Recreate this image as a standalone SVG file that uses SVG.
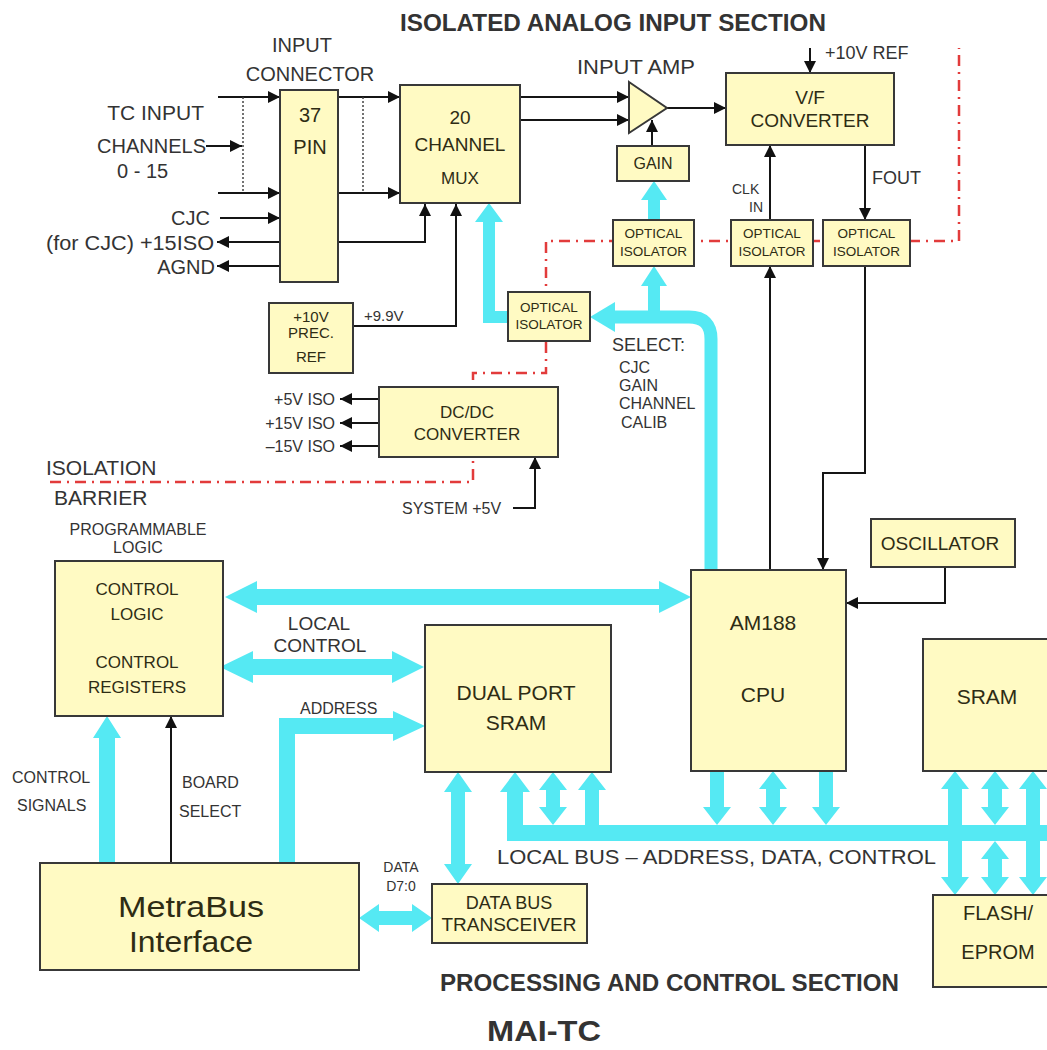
<svg xmlns="http://www.w3.org/2000/svg" width="1047" height="1050" viewBox="0 0 1047 1050">
<style>
.box{fill:#FFFAC3;stroke:#383838;stroke-width:2}
.ln{fill:none;stroke:#151515;stroke-width:2}
.dot{fill:none;stroke:#444;stroke-width:1.5;stroke-dasharray:2 2}
.cy{fill:#55E9F3}
.cys{fill:none;stroke:#55E9F3}
.red{fill:none;stroke:#E23B3B;stroke-width:2.5;stroke-dasharray:11 6 2 6}
text{font-family:"Liberation Sans",Arial,Helvetica,sans-serif;fill:#333}
.in{fill:#2e2c14}
.c{text-anchor:middle}
.e{text-anchor:end}
.b{font-weight:bold}
</style>
<defs>
<marker id="ah" viewBox="0 0 10 10" refX="10" refY="5" markerWidth="13" markerHeight="12" markerUnits="userSpaceOnUse" orient="auto">
<path d="M0,0 L10,5 L0,10 z" fill="#111"/>
</marker>
</defs>
<rect width="1047" height="1050" fill="#fff"/>

<!-- isolation barrier -->
<path class="red" d="M50 482 H473 V373 H546 V241 H959 V48"/>

<g id="connectors">
<path class="ln" d="M218 97 H280" marker-end="url(#ah)"/>
<path class="ln" d="M218 193 H280" marker-end="url(#ah)"/>
<path class="dot" d="M243 97 V193"/>
<path class="ln" d="M206 146 H242" marker-end="url(#ah)"/>
<path class="ln" d="M220 218 H280" marker-end="url(#ah)"/>
<path class="ln" d="M280 242 H217" marker-end="url(#ah)"/>
<path class="ln" d="M280 266 H217" marker-end="url(#ah)"/>
<path class="ln" d="M338 97 H400" marker-end="url(#ah)"/>
<path class="ln" d="M338 193 H400" marker-end="url(#ah)"/>
<path class="dot" d="M363 97 V193"/>
<path class="ln" d="M338 242 H425 V204" marker-end="url(#ah)"/>
<path class="ln" d="M353 326 H456 V204" marker-end="url(#ah)"/>
<path class="ln" d="M520 97 H629" marker-end="url(#ah)"/>
<path class="ln" d="M520 120 H629" marker-end="url(#ah)"/>
<path class="ln" d="M667 108 H726" marker-end="url(#ah)"/>
<path class="ln" d="M652 146 V120" marker-end="url(#ah)"/>
<path class="ln" d="M810 48 V73" marker-end="url(#ah)"/>
<path class="ln" d="M770 220 V145" marker-end="url(#ah)"/>
<path class="ln" d="M770 570 V266" marker-end="url(#ah)"/>
<path class="ln" d="M865 145 V220" marker-end="url(#ah)"/>
<path class="ln" d="M865 266 V473 H823 V570" marker-end="url(#ah)"/>
<path class="ln" d="M945 567 V603 H846" marker-end="url(#ah)"/>
<path class="ln" d="M379 399 H340" marker-end="url(#ah)"/>
<path class="ln" d="M379 423 H340" marker-end="url(#ah)"/>
<path class="ln" d="M379 446 H340" marker-end="url(#ah)"/>
<path class="ln" d="M513 508 H535 V457" marker-end="url(#ah)"/>
<path class="ln" d="M171 863 V716" marker-end="url(#ah)"/>

<polygon class="cy" points="508,311 495,311 495,222 503,222 489,203 475,222 483,222 483,323 508,323"/>
<path class="cys" stroke-width="13" d="M711 570 V339 Q711 317 689 317 H612"/>
<polygon class="cy" points="590,317 615,302 615,332"/>
<rect class="cy" x="648" y="284" width="12" height="34"/>
<polygon class="cy" points="654,266 667,286 641,286"/>
<rect class="cy" x="648" y="198" width="12" height="23"/>
<polygon class="cy" points="654,181 667,200 641,200"/>

<polygon class="cy" points="225,597 257,581 257,589 659,589 659,581 691,597 659,613 659,605 257,605 257,613"/>
<polygon class="cy" points="220,667 253,651 253,659 392,659 392,651 424,667 392,683 392,675 253,675 253,683"/>
<polygon class="cy" points="279,863 279,718 393,718 393,711 425,726 393,741 393,734 295,734 295,863"/>
<polygon class="cy" points="107,716 121,738 115,738 115,863 99,863 99,738 93,738"/>
<polygon class="cy" points="458,772 472,792 465,792 465,864 472,864 458,884 444,864 451,864 451,792 444,792"/>
<polygon class="cy" points="359,918 379,904 379,911 412,911 412,904 432,918 412,932 412,925 379,925 379,932"/>

<rect class="cy" x="507" y="825" width="540" height="16"/>
<rect class="cy" x="507" y="790" width="16" height="40"/>
<polygon class="cy" points="515,772 530,792 500,792"/>
<polygon class="cy" points="553,772 567,790 560,790 560,807 567,807 553,825 539,807 546,807 546,790 539,790"/>
<polygon class="cy" points="592,772 606,790 599,790 599,828 585,828 585,790 578,790"/>
<polygon class="cy" points="710,771 724,771 724,807 731,807 717,825 703,807 710,807"/>
<polygon class="cy" points="773,771 787,789 780,789 780,807 787,807 773,825 759,807 766,807 766,789 759,789"/>
<polygon class="cy" points="819,771 833,771 833,807 840,807 826,825 812,807 819,807"/>
<polygon class="cy" points="955,771 969,789 962,789 962,877 969,877 955,895 941,877 948,877 948,789 941,789"/>
<polygon class="cy" points="995,771 1009,789 1002,789 1002,807 1009,807 995,825 981,807 988,807 988,789 981,789"/>
<polygon class="cy" points="995,841 1009,859 1002,859 1002,877 1009,877 995,895 981,877 988,877 988,859 981,859"/>
<polygon class="cy" points="1033,771 1047,789 1040,789 1040,877 1047,877 1033,895 1019,877 1026,877 1026,789 1019,789"/>
</g>

<g id="conn37"><rect class="box" x="280" y="90" width="58" height="192"/>
<text class="in c" x="310" y="122" font-size="20">37</text><text class="in c" x="310" y="154" font-size="20">PIN</text></g>
<g id="mux"><rect class="box" x="400" y="85" width="120" height="118"/>
<text class="in c" x="460" y="124" font-size="19">20</text><text class="in c" x="460" y="151" font-size="19">CHANNEL</text><text class="in c" x="460" y="184" font-size="17">MUX</text></g>
<g id="amp"><polygon class="box" points="629,82 667,108 629,133"/></g>
<g id="vf"><rect class="box" x="726" y="73" width="168" height="72"/>
<text class="in c" x="810" y="104" font-size="19">V/F</text><text class="in c" x="810" y="127" font-size="19">CONVERTER</text></g>
<g id="gain"><rect class="box" x="617" y="146" width="72" height="35"/>
<text class="in c" x="653" y="169" font-size="16">GAIN</text></g>
<g id="oi1"><rect class="box" x="613" y="220" width="81" height="46"/>
<text class="in c" x="653.5" y="238" font-size="13.5">OPTICAL</text><text class="in c" x="653.5" y="256" font-size="13.5">ISOLATOR</text></g>
<g id="oi2"><rect class="box" x="731" y="220" width="82" height="46"/>
<text class="in c" x="772" y="238" font-size="13.5">OPTICAL</text><text class="in c" x="772" y="256" font-size="13.5">ISOLATOR</text></g>
<g id="oi3"><rect class="box" x="823" y="220" width="87" height="46"/>
<text class="in c" x="866.5" y="238" font-size="13.5">OPTICAL</text><text class="in c" x="866.5" y="256" font-size="13.5">ISOLATOR</text></g>
<g id="oi4"><rect class="box" x="508" y="292" width="82" height="49"/>
<text class="in c" x="549" y="312" font-size="13.5">OPTICAL</text><text class="in c" x="549" y="329" font-size="13.5">ISOLATOR</text></g>
<g id="ref"><rect class="box" x="269" y="303" width="84" height="70"/>
<text class="in c" x="311" y="322" font-size="15">+10V</text><text class="in c" x="311" y="338" font-size="15">PREC.</text><text class="in c" x="311" y="362" font-size="15">REF</text></g>
<g id="dcdc"><rect class="box" x="379" y="387" width="179" height="70"/>
<text class="in c" x="467" y="418" font-size="17">DC/DC</text><text class="in c" x="467" y="440" font-size="17">CONVERTER</text></g>
<g id="ctrl"><rect class="box" x="55" y="561" width="168" height="155"/>
<text class="in c" x="137" y="595" font-size="17">CONTROL</text><text class="in c" x="137" y="620" font-size="17">LOGIC</text>
<text class="in c" x="137" y="668" font-size="17">CONTROL</text><text class="in c" x="137" y="693" font-size="17">REGISTERS</text></g>
<g id="dpsram"><rect class="box" x="425" y="625" width="186" height="147"/>
<text class="in c" x="516" y="700" font-size="21">DUAL PORT</text><text class="in c" x="516" y="730" font-size="21">SRAM</text></g>
<g id="cpu"><rect class="box" x="691" y="570" width="155" height="201"/>
<text class="in c" x="763" y="630" font-size="21">AM188</text><text class="in c" x="763" y="702" font-size="21">CPU</text></g>
<g id="osc"><rect class="box" x="871" y="519" width="144" height="48"/>
<text class="in c" x="940" y="550" font-size="19">OSCILLATOR</text></g>
<g id="sram"><rect class="box" x="923" y="639" width="140" height="132"/>
<text class="in c" x="987" y="704" font-size="21">SRAM</text></g>
<g id="flash"><rect class="box" x="933" y="895" width="130" height="92"/>
<text class="in c" x="998" y="920" font-size="20">FLASH/</text><text class="in c" x="998" y="959" font-size="20">EPROM</text></g>
<g id="metrabus"><rect class="box" x="40" y="863" width="319" height="107"/>
<text class="in c" x="191" y="917" font-size="29" textLength="146" lengthAdjust="spacingAndGlyphs">MetraBus</text><text class="in c" x="191" y="952" font-size="29" textLength="124" lengthAdjust="spacingAndGlyphs">Interface</text></g>
<g id="dbt"><rect class="box" x="432" y="884" width="155" height="59"/>
<text class="in c" x="509" y="909" font-size="18">DATA BUS</text><text class="in c" x="509" y="931" font-size="18" textLength="135" lengthAdjust="spacingAndGlyphs">TRANSCEIVER</text></g>

<g id="labels">
<text class="b" x="400" y="31" font-size="23" textLength="426" lengthAdjust="spacingAndGlyphs">ISOLATED ANALOG INPUT SECTION</text>
<text class="c" x="302" y="52" font-size="20">INPUT</text>
<text class="c" x="310" y="81" font-size="20">CONNECTOR</text>
<text class="e" x="204" y="120" font-size="21">TC INPUT</text>
<text class="e" x="206" y="153" font-size="20">CHANNELS</text>
<text x="117" y="178" font-size="20">0 - 15</text>
<text class="e" x="210" y="225" font-size="20">CJC</text>
<text class="e" x="214" y="250" font-size="20" textLength="168" lengthAdjust="spacingAndGlyphs">(for CJC) +15ISO</text>
<text class="e" x="215" y="274" font-size="20">AGND</text>
<text x="577" y="74" font-size="20" textLength="118" lengthAdjust="spacingAndGlyphs">INPUT AMP</text>
<text x="825" y="59" font-size="18">+10V REF</text>
<text x="732" y="194" font-size="14">CLK</text>
<text class="e" x="763" y="212" font-size="14">IN</text>
<text x="872" y="184" font-size="18">FOUT</text>
<text x="364" y="321" font-size="15">+9.9V</text>
<text x="612" y="351" font-size="18">SELECT:</text>
<text x="619" y="373" font-size="16">CJC</text>
<text x="619" y="391" font-size="16">GAIN</text>
<text x="619" y="409" font-size="16">CHANNEL</text>
<text x="621" y="428" font-size="16">CALIB</text>
<text class="e" x="335" y="405" font-size="16">+5V ISO</text>
<text class="e" x="335" y="429" font-size="16">+15V ISO</text>
<text class="e" x="335" y="452" font-size="16">–15V ISO</text>
<text x="46" y="475" font-size="21">ISOLATION</text>
<text x="54" y="505" font-size="21">BARRIER</text>
<text x="402" y="514" font-size="16">SYSTEM +5V</text>
<text class="c" x="138" y="535" font-size="16">PROGRAMMABLE</text>
<text class="c" x="138" y="553" font-size="16">LOGIC</text>
<text class="c" x="319" y="630" font-size="19">LOCAL</text>
<text class="c" x="320" y="652" font-size="19">CONTROL</text>
<text x="300" y="714" font-size="16">ADDRESS</text>
<text x="12" y="783" font-size="16">CONTROL</text>
<text x="17" y="811" font-size="16">SIGNALS</text>
<text x="182" y="788" font-size="16">BOARD</text>
<text x="179" y="817" font-size="16">SELECT</text>
<text class="c" x="401" y="872" font-size="14">DATA</text>
<text class="c" x="401" y="891" font-size="14">D7:0</text>
<text x="497" y="864" font-size="21" textLength="439" lengthAdjust="spacingAndGlyphs">LOCAL BUS – ADDRESS, DATA, CONTROL</text>
<text class="b" x="440" y="991" font-size="23" textLength="459" lengthAdjust="spacingAndGlyphs">PROCESSING AND CONTROL SECTION</text>
<text class="b" x="487" y="1041" font-size="30" textLength="114" lengthAdjust="spacingAndGlyphs">MAI-TC</text>
</g>
</svg>
